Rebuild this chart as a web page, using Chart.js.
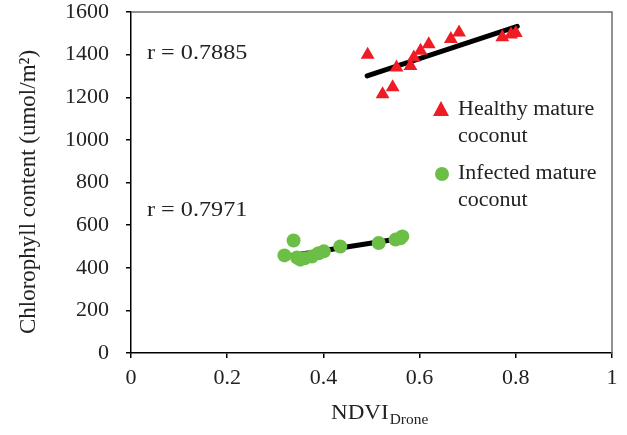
<!DOCTYPE html>
<html>
<head>
<meta charset="utf-8">
<script src="https://cdn.jsdelivr.net/npm/chart.js@4.4.1/dist/chart.umd.min.js"></script>
<style>
  html, body { margin: 0; padding: 0; background: #fff; }
  #wrap { width: 627px; height: 435px; }
</style>
</head>
<body>
<div id="wrap"><canvas id="chart" width="627" height="435"></canvas></div>
<script>
// values
const healthyX = [0.492, 0.523, 0.544, 0.552, 0.581, 0.588, 0.602, 0.619, 0.665, 0.682, 0.772, 0.790, 0.800];
const healthyY = [1400, 1214, 1247, 1340, 1347, 1387, 1418, 1449, 1473, 1504, 1481, 1495, 1501];
const infectedX = [0.319, 0.338, 0.345, 0.352, 0.362, 0.376, 0.390, 0.401, 0.435, 0.515, 0.550, 0.560, 0.564];
const infectedY = [458, 528, 448, 438, 445, 453, 468, 477, 500, 516, 532, 538, 547];
// fitted lines as drawn
const healthyTrendX = [0.491, 0.803];
const healthyTrendY = [1300, 1533];
const infectedTrendX = [0.319, 0.567];
const infectedTrendY = [452, 540];
const xTicks = [0, 0.2, 0.4, 0.6, 0.8, 1];
const yTicks = [0, 200, 400, 600, 800, 1000, 1200, 1400, 1600];
const rLabels = ['r = 0.7885', 'r = 0.7971'];

const FONT = '"Liberation Serif", "Times New Roman", serif';
const RED = '#ee1c24';
const GREEN = '#6cbf46';
const STRETCH = 1.1; // reference text is a little wide

function pts(xs, ys) {
    return xs.map(function(x, i) { return { x: x, y: ys[i] }; });
}

function wideText(ctx, txt, x, y) {
    ctx.save();
    ctx.translate(x, y);
    ctx.scale(STRETCH, 1);
    ctx.fillText(txt, 0, 0);
    ctx.restore();
}

function noPad(s) {
    s.paddingTop = 0; s.paddingBottom = 0;
    s.paddingLeft = 0; s.paddingRight = 0;
}

const extras = {
    id: 'extras',
    afterDraw: function(chart) {
        const ctx = chart.ctx;
        const a = chart.chartArea;
        const ys = chart.scales.y;
        ctx.save();
        // top and right frame
        ctx.strokeStyle = '#6d6d6d';
        ctx.lineWidth = 1.5;
        ctx.beginPath();
        ctx.moveTo(a.left, a.top);
        ctx.lineTo(a.right, a.top);
        ctx.lineTo(a.right, a.bottom);
        ctx.stroke();

        ctx.fillStyle = '#222';
        ctx.textBaseline = 'middle';
        ctx.textAlign = 'left';
        // r labels
        ctx.font = '22px ' + FONT;
        wideText(ctx, rLabels[0], 147, ys.getPixelForValue(1405));
        wideText(ctx, rLabels[1], 147, ys.getPixelForValue(668));

        // legend
        const lx = 441;
        ctx.fillStyle = RED;
        ctx.beginPath();
        ctx.moveTo(lx, 101); ctx.lineTo(lx + 8, 116); ctx.lineTo(lx - 8, 116); ctx.closePath();
        ctx.fill();
        ctx.fillStyle = GREEN;
        ctx.beginPath();
        ctx.arc(lx + 1, 174, 7, 0, Math.PI * 2);
        ctx.fill();
        ctx.fillStyle = '#222';
        ctx.font = '20px ' + FONT;
        wideText(ctx, 'Healthy mature', 458, 110);
        wideText(ctx, 'coconut', 458, 137);
        wideText(ctx, 'Infected mature', 458, 174);
        wideText(ctx, 'coconut', 458, 201);

        // x title with subscript
        ctx.font = '21px ' + FONT;
        wideText(ctx, 'NDVI', 331, 413);
        const w = ctx.measureText('NDVI').width * STRETCH;
        ctx.font = '14px ' + FONT;
        wideText(ctx, 'Drone', 332 + w, 420);

        // y title
        ctx.translate(29, 192);
        ctx.rotate(-Math.PI / 2);
        ctx.textAlign = 'center';
        ctx.font = '23px ' + FONT;
        ctx.fillText('Chlorophyll content (umol/m\u00b2)', 0, 0);
        ctx.restore();
    }
};

new Chart(document.getElementById('chart').getContext('2d'), {
    type: 'scatter',
    data: {
        datasets: [
            {
                label: 'Healthy mature coconut',
                data: pts(healthyX, healthyY),
                pointStyle: 'triangle',
                pointRadius: 8,
                backgroundColor: RED,
                borderColor: RED,
                borderWidth: 0
            },
            {
                label: 'Infected mature coconut',
                data: pts(infectedX, infectedY),
                pointStyle: 'circle',
                pointRadius: 7,
                backgroundColor: GREEN,
                borderColor: GREEN,
                borderWidth: 0
            },
            {
                type: 'line',
                data: pts(healthyTrendX, healthyTrendY),
                borderColor: '#000',
                borderWidth: 5,
                borderCapStyle: 'round',
                pointRadius: 0
            },
            {
                type: 'line',
                data: pts(infectedTrendX, infectedTrendY),
                borderColor: '#000',
                borderWidth: 5,
                borderCapStyle: 'round',
                pointRadius: 0
            }
        ]
    },
    options: {
        responsive: false,
        animation: false,
        layout: { padding: { top: 12, right: 15, left: 0, bottom: 0 } },
        plugins: {
            legend: { display: false },
            tooltip: { enabled: false }
        },
        scales: {
            x: {
                type: 'linear',
                min: 0,
                max: 1,
                afterBuildTicks: function(s) { s.ticks = xTicks.map(function(v) { return { value: v }; }); },
                afterFit: function(s) { s.height = 82; noPad(s); },
                border: { display: true, color: '#000', width: 1.5 },
                grid: { drawOnChartArea: false, drawTicks: true, tickLength: 5, color: '#000', lineWidth: 1.5 },
                ticks: {
                    padding: 7,
                    color: '#222',
                    font: { family: FONT, size: 22 },
                    maxRotation: 0,
                    callback: function(v) { return String(v); }
                }
            },
            y: {
                min: 0,
                max: 1600,
                afterBuildTicks: function(s) { s.ticks = yTicks.map(function(v) { return { value: v }; }); },
                afterFit: function(s) { s.width = 131; noPad(s); },
                border: { display: true, color: '#000', width: 1.5 },
                grid: { drawOnChartArea: false, drawTicks: true, tickLength: 5, color: '#000', lineWidth: 1.5 },
                ticks: {
                    padding: 17,
                    color: '#222',
                    font: { family: FONT, size: 22 },
                    callback: function(v) { return String(v); }
                }
            }
        }
    },
    plugins: [extras]
});
</script>
</body>
</html>
